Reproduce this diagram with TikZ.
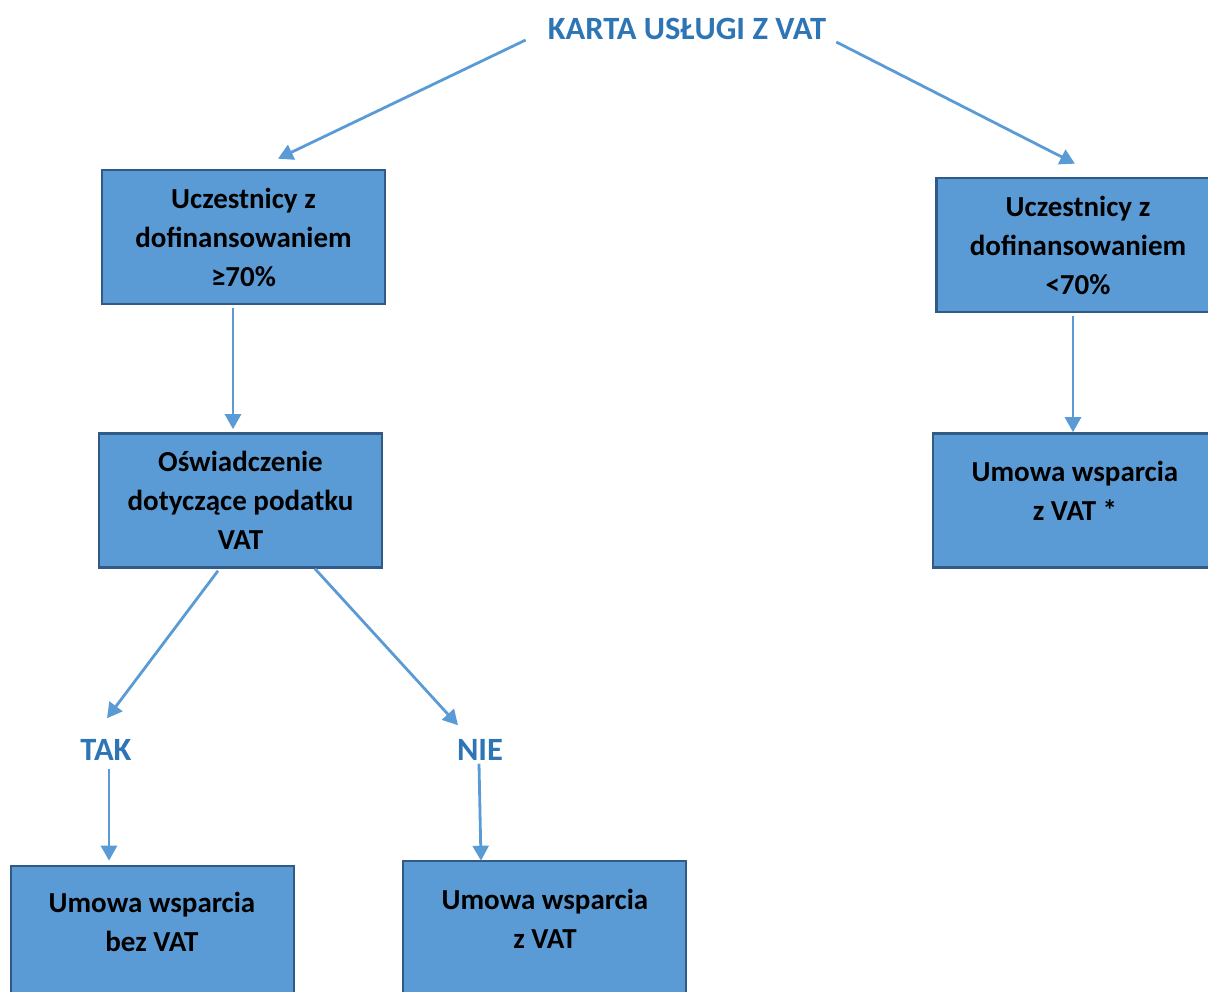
\documentclass[tikz,border=0pt]{standalone}
\usepackage{fontspec}
\setmainfont{Carlito}
\usetikzlibrary{arrows.meta,calc}
\definecolor{boxfill}{HTML}{5B9BD5}
\definecolor{boxline}{HTML}{325A86}
\definecolor{titleblue}{HTML}{2E75B6}
\definecolor{arrowblue}{HTML}{5B9BD5}
\newcommand\myboxfont{\fontsize{29}{39}\selectfont\bfseries}
\newcommand\mylabelfont{\fontsize{32.5}{38}\selectfont\bfseries}
\tikzset{
  box/.style={draw=boxline, line width=2.6pt, fill=boxfill, minimum width=283pt,
    minimum height=134pt, inner sep=0pt, align=center, font=\myboxfont, text=black},
  boxtext/.style={inner sep=0pt, align=center, font=\myboxfont, text=black},
  lbl/.style={inner sep=0pt, font=\mylabelfont, text=titleblue},
  arr/.style={draw=arrowblue, line width=2.8pt, -{Triangle[length=15pt,width=16pt]}}
}
\begin{document}
\begin{tikzpicture}[x=1pt,y=-1pt]
\useasboundingbox (0,0) rectangle (1208,992);
\clip (0,0) rectangle (1208,992);
% title and labels
\node[lbl] (title) at (687,29) {KARTA USŁUGI Z VAT};
\node[lbl] (tak) at (106,750) {TAK};
\node[lbl] (nie) at (480,750) {NIE};
% boxes
\node[box] (b1) at (243.5,237) {Uczestnicy z\\dofinansowaniem\\≥70\%};
\node[box] (b2) at (1078,245) {Uczestnicy z\\dofinansowaniem\\<70\%};
\node[box] (b3) at (240.5,500.5) {Oświadczenie\\dotyczące podatku\\VAT};
\node[box, minimum width=285pt] (b4) at (1075.5,500.5) {};
\node[boxtext] at (1075,490.5) {Umowa wsparcia\\z VAT *};
\node[box, minimum width=283pt] (b5) at (152.5,933) {};
\node[boxtext] at (152,922) {Umowa wsparcia\\bez VAT};
\node[box, minimum width=283pt] (b6) at (544.5,928) {};
\node[boxtext] at (545,918.5) {Umowa wsparcia\\z VAT};
% connectors
\draw[arr] ($(title.west)+(-22,11)$) -- ($(b1.north)+(34.5,-10)$);
\draw[arr] ($(title.east)+(10,13)$) -- ($(b2.north)+(-3,-13)$);
\draw[arr] ($(b1.south)+(-10.5,3)$) -- ($(b3.north)+(-7.5,-3)$);
\draw[arr] ($(b2.south)+(-5,3)$) -- ($(b4.north)+(-2.5,0)$);
\draw[arr] ($(b3.south)+(-22.5,2)$) -- ($(tak.north)+(1,-21)$);
\draw[arr] ($(b3.south)+(74.5,0)$) -- ($(nie.north)+(-22,-14)$);
\draw[arr] ($(tak.south)+(3,8)$) -- ($(b5.north)+(-43.5,-4)$);
\draw[arr] ($(nie.south)+(-1,3)$) -- ($(b6.north)+(-63.5,1)$);
\end{tikzpicture}
\end{document}
